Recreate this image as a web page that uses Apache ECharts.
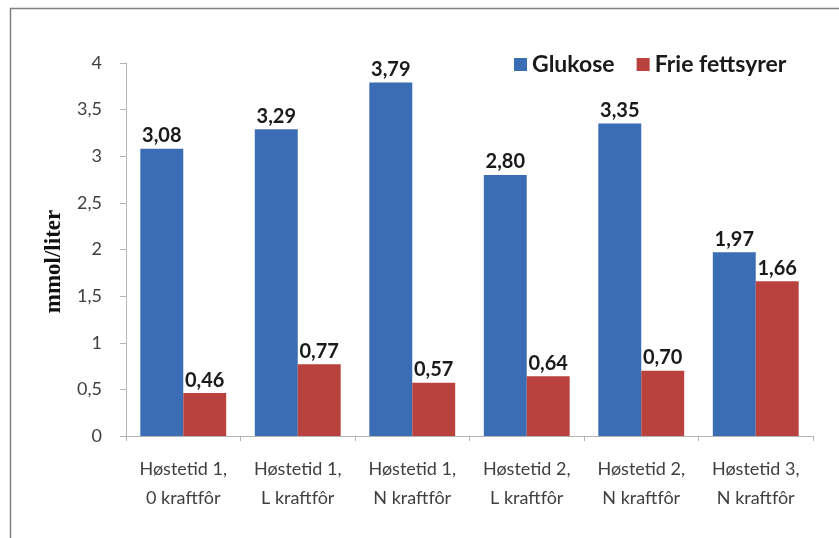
<!DOCTYPE html>
<html><head><meta charset="utf-8">
<script src="https://cdn.jsdelivr.net/npm/echarts@6/dist/echarts.min.js"></script>
<style>html,body{margin:0;padding:0;background:#fff}#c{width:839px;height:538px}</style>
</head><body><div id="c"></div>
<script>
const categories = ["Høstetid 1,\n0 kraftfôr","Høstetid 1,\nL kraftfôr","Høstetid 1,\nN kraftfôr","Høstetid 2,\nL kraftfôr","Høstetid 2,\nN kraftfôr","Høstetid 3,\nN kraftfôr"];
const glukose = [3.08, 3.29, 3.79, 2.80, 3.35, 1.97];
const frieFettsyrer = [0.46, 0.77, 0.57, 0.64, 0.70, 1.66];
const seriesNames = ["Glukose", "Frie fettsyrer"];

const FONT = "Lato,'Noto Sans',sans-serif";
const chart = echarts.init(document.getElementById('c'), null, {renderer:'canvas'});
const fmt = v => String(v).replace('.', ',');
const lbl = {show:true, position:'top', distance:3, fontFamily:FONT, fontWeight:'bold', fontSize:20, color:'#1a1a1a',
  formatter: p => p.value.toFixed(2).replace('.', ',')};
chart.setOption({
  animation:false,
  graphic:[{type:'rect', shape:{x:10.5,y:8.5,width:900,height:600}, style:{fill:'none', stroke:'#7f7f7f', lineWidth:1.5}, silent:true}],
  legend:{top:48, left:509, itemWidth:13, itemHeight:13, itemGap:22, icon:'rect',
    textStyle:{fontFamily:FONT, fontWeight:'bold', fontSize:23, color:'#1a1a1a', padding:[0,0,0,0]}, data:seriesNames},
  grid:{left:126, right:26, top:63, bottom:102},
  xAxis:{type:'category', data:categories,
    axisLine:{lineStyle:{color:'#b4b4b4'}},
    axisTick:{show:true, length:5, alignWithLabel:false, lineStyle:{color:'#b4b4b4'}},
    axisLabel:{margin:19, fontFamily:FONT, fontSize:18, color:'#404040', lineHeight:29, interval:0}},
  yAxis:{type:'value', min:0, max:4, interval:0.5,
    name:'mmol/liter', nameLocation:'middle', nameGap:60, nameRotate:90, nameMoveOverlap:false,
    nameTextStyle:{fontFamily:"'Liberation Serif','DejaVu Serif',serif", fontWeight:'bold', fontSize:23, color:'#111', padding:[0,24,0,0]},
    axisLine:{show:true, lineStyle:{color:'#b4b4b4'}},
    axisTick:{show:true, length:6, lineStyle:{color:'#b4b4b4'}},
    splitLine:{show:false},
    axisLabel:{margin:24, fontFamily:FONT, fontSize:18, color:'#404040', formatter: v => fmt(v)}},
  series:[
    {name:seriesNames[0], type:'bar', data:glukose, itemStyle:{color:'#3b6db5'}, barGap:'0%', barCategoryGap:'25%', label:lbl},
    {name:seriesNames[1], type:'bar', data:frieFettsyrer, itemStyle:{color:'#b9423e'}, label:lbl}
  ]
});
</script></body></html>
